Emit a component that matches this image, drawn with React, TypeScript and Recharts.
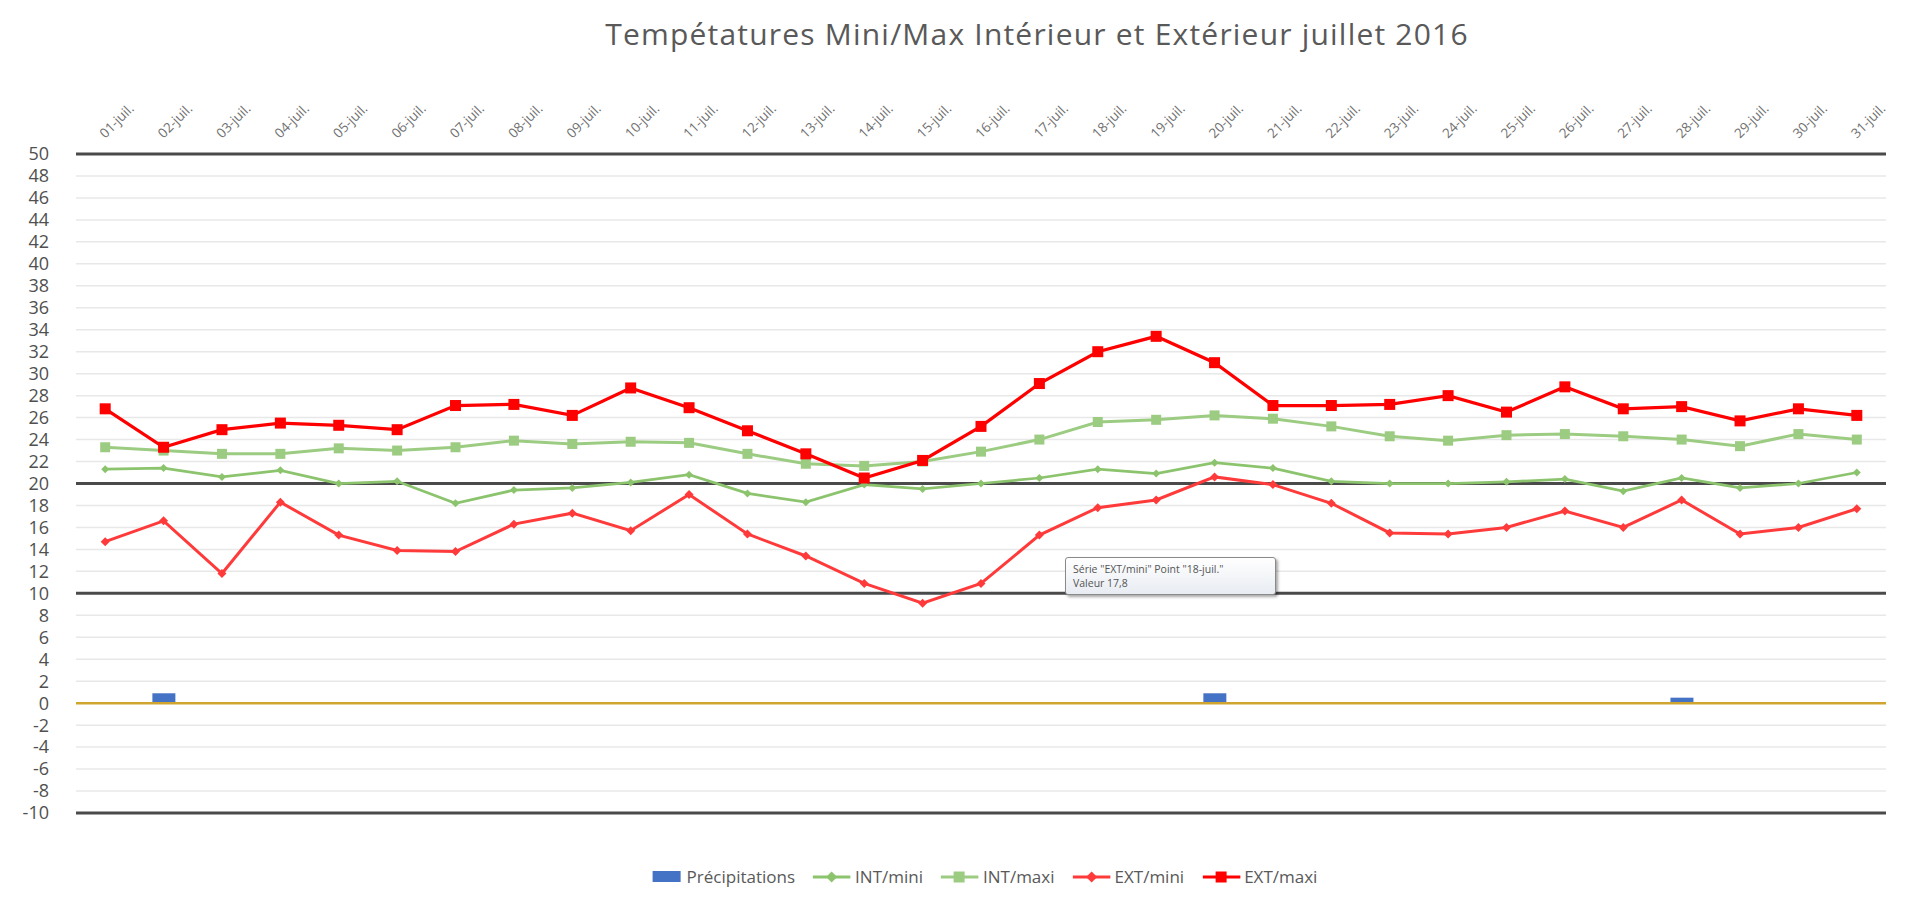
import { ComposedChart, Line, Bar, XAxis, YAxis, CartesianGrid, ReferenceLine } from "recharts"

// jours de juillet 2016
const days = [
  "01-juil.", "02-juil.", "03-juil.", "04-juil.", "05-juil.", "06-juil.", "07-juil.", "08-juil.",
  "09-juil.", "10-juil.", "11-juil.", "12-juil.", "13-juil.", "14-juil.", "15-juil.", "16-juil.",
  "17-juil.", "18-juil.", "19-juil.", "20-juil.", "21-juil.", "22-juil.", "23-juil.", "24-juil.",
  "25-juil.", "26-juil.", "27-juil.", "28-juil.", "29-juil.", "30-juil.", "31-juil.",
]

const precipitations = [0, 0.9, 0, 0, 0, 0, 0, 0, 0, 0, 0, 0, 0, 0, 0, 0, 0, 0, 0, 0.9, 0, 0, 0, 0, 0, 0, 0, 0.5, 0, 0, 0]

const intMini = [
  21.3, 21.4, 20.6, 21.2, 20.0, 20.2, 18.2, 19.4, 19.6, 20.1, 20.8, 19.1, 18.3, 19.9, 19.5, 20.0,
  20.5, 21.3, 20.9, 21.9, 21.4, 20.2, 20.0, 20.0, 20.15, 20.4, 19.3, 20.5, 19.6, 20.0, 21.0,
]

const intMaxi = [
  23.3, 23.0, 22.7, 22.7, 23.2, 23.0, 23.3, 23.9, 23.6, 23.8, 23.7, 22.7, 21.8, 21.6, 22.0, 22.9,
  24.0, 25.6, 25.8, 26.2, 25.9, 25.2, 24.3, 23.9, 24.4, 24.5, 24.3, 24.0, 23.4, 24.5, 24.0,
]

const extMini = [
  14.7, 16.6, 11.8, 18.3, 15.3, 13.9, 13.8, 16.3, 17.3, 15.7, 19.0, 15.4, 13.4, 10.9, 9.1, 10.9,
  15.3, 17.8, 18.5, 20.6, 19.9, 18.2, 15.5, 15.4, 16.0, 17.5, 16.0, 18.5, 15.4, 16.0, 17.7,
]

const extMaxi = [
  26.8, 23.3, 24.9, 25.5, 25.3, 24.9, 27.1, 27.2, 26.2, 28.7, 26.9, 24.8, 22.7, 20.5, 22.1, 25.2,
  29.1, 32.0, 33.4, 31.0, 27.1, 27.1, 27.2, 28.0, 26.5, 28.8, 26.8, 27.0, 25.7, 26.8, 26.2,
]

const yTicks = [-10, -8, -6, -4, -2, 0, 2, 4, 6, 8, 10, 12, 14, 16, 18, 20, 22, 24, 26, 28, 30, 32, 34, 36, 38, 40, 42, 44, 46, 48, 50]
const heavyLines = [50, 20, 10, -10]

const data = days.map((day, i) => ({
  day,
  precip: precipitations[i],
  intMini: intMini[i],
  intMaxi: intMaxi[i],
  extMini: extMini[i],
  extMaxi: extMaxi[i],
}))

const BLUE = "#4472C4"
const GREEN_MINI = "#8CC46E"
const GREEN_MAXI = "#9CCC82"
const RED_MINI = "#FF3A3A"
const RED_MAXI = "#FF0000"
const TEXT = "#595959"

const square = (color: string, size: number) => (props: any) => {
  const { cx, cy, index } = props
  if (cx == null || cy == null) return <g key={index} />
  return <rect key={index} x={cx - size / 2} y={cy - size / 2} width={size} height={size} fill={color} />
}

const diamond = (color: string, size: number) => (props: any) => {
  const { cx, cy, index } = props
  if (cx == null || cy == null) return <g key={index} />
  const h = size / 2
  return <polygon key={index} points={`${cx},${cy - h} ${cx + h},${cy} ${cx},${cy + h} ${cx - h},${cy}`} fill={color} />
}

const DayTick = (props: any) => {
  const { x, payload } = props
  const y = 139
  return (
    <text x={x} y={y} transform={`rotate(-45, ${x}, ${y})`} textAnchor="start" fontSize={13.5} fill="#707070">
      {payload.value}
    </text>
  )
}

const LegendItem = ({ label, color, marker }: { label: string; color: string; marker: "bar" | "diamond" | "square" }) => (
  <div style={{ display: "flex", alignItems: "center", marginRight: 18 }}>
    <svg width={marker === "bar" ? 32 : 38} height={16} style={{ marginRight: 4 }}>
      {marker === "bar" ? (
        <rect x={2} y={2} width={28} height={11} fill={color} />
      ) : (
        <>
          <line x1={0} y1={8} x2={38} y2={8} stroke={color} strokeWidth={3} />
          {marker === "square" ? (
            <rect x={13} y={2.5} width={11} height={11} fill={color} />
          ) : (
            <polygon points="19,2.5 24.5,8 19,13.5 13.5,8" fill={color} />
          )}
        </>
      )}
    </svg>
    <span>{label}</span>
  </div>
)

export default function App() {
  return (
    <div style={{ position: "absolute", left: 0, top: 0, width: 1920, height: 906, background: "#fff", fontFamily: '"Open Sans", sans-serif' }}>
      <ComposedChart width={1920} height={906} data={data} margin={{ top: 0, right: 34, bottom: 93, left: 0 }}>
        <CartesianGrid vertical={false} stroke="#e8e8e8" strokeWidth={1.5} />
        <XAxis
          dataKey="day"
          orientation="top"
          height={154}
          axisLine={false}
          tickLine={false}
          interval={0}
          tick={<DayTick />}
        />
        <YAxis
          domain={[-10, 50]}
          ticks={yTicks}
          interval={0}
          width={76}
          axisLine={false}
          tickLine={false}
          tickSize={0}
          tickMargin={27}
          tick={{ fontSize: 18, fill: "#505050" }}
        />
        {heavyLines.map((v) => (
          <ReferenceLine key={v} y={v} stroke="#4a4a4a" strokeWidth={3} />
        ))}
        <ReferenceLine y={0} stroke="#CFA530" strokeWidth={2.5} />
        <Bar dataKey="precip" name="Précipitations" fill={BLUE} barSize={23} isAnimationActive={false} />
        <Line
          dataKey="intMini"
          name="INT/mini"
          stroke={GREEN_MINI}
          strokeWidth={2.75}
          dot={diamond(GREEN_MINI, 8)}
          activeDot={false}
          isAnimationActive={false}
        />
        <Line
          dataKey="intMaxi"
          name="INT/maxi"
          stroke={GREEN_MAXI}
          strokeWidth={3}
          dot={square(GREEN_MAXI, 10)}
          activeDot={false}
          isAnimationActive={false}
        />
        <Line
          dataKey="extMini"
          name="EXT/mini"
          stroke={RED_MINI}
          strokeWidth={3}
          dot={diamond(RED_MINI, 9)}
          activeDot={false}
          isAnimationActive={false}
        />
        <Line
          dataKey="extMaxi"
          name="EXT/maxi"
          stroke={RED_MAXI}
          strokeWidth={3.25}
          dot={square(RED_MAXI, 11)}
          activeDot={false}
          isAnimationActive={false}
        />
      </ComposedChart>

      <div
        style={{
          position: "absolute",
          left: 1037,
          top: 13,
          transform: "translateX(-50%)",
          whiteSpace: "nowrap",
          fontSize: 30,
          letterSpacing: 1.2,
          color: TEXT,
        }}
      >
        Tempétatures Mini/Max Intérieur et Extérieur juillet 2016
      </div>

      <div
        style={{
          position: "absolute",
          left: 993,
          top: 865,
          transform: "translateX(-50%)",
          display: "flex",
          whiteSpace: "nowrap",
          fontSize: 17,
          color: TEXT,
        }}
      >
        <LegendItem label="Précipitations" color={BLUE} marker="bar" />
        <LegendItem label="INT/mini" color={GREEN_MINI} marker="diamond" />
        <LegendItem label="INT/maxi" color={GREEN_MAXI} marker="square" />
        <LegendItem label="EXT/mini" color={RED_MINI} marker="diamond" />
        <LegendItem label="EXT/maxi" color={RED_MAXI} marker="square" />
      </div>

      <div
        style={{
          position: "absolute",
          left: 1065,
          top: 557,
          width: 211,
          height: 38,
          boxSizing: "border-box",
          padding: "4px 7px",
          border: "1px solid #8a8a8a",
          borderRadius: 3,
          background: "linear-gradient(#ffffff, #e8ecf2)",
          boxShadow: "2px 2px 3px rgba(0,0,0,0.35)",
          fontSize: 10.5,
          lineHeight: "14px",
          color: "#555",
          whiteSpace: "nowrap",
        }}
      >
        <div>Série "EXT/mini" Point "18-juil."</div>
        <div>Valeur 17,8</div>
      </div>
    </div>
  )
}
